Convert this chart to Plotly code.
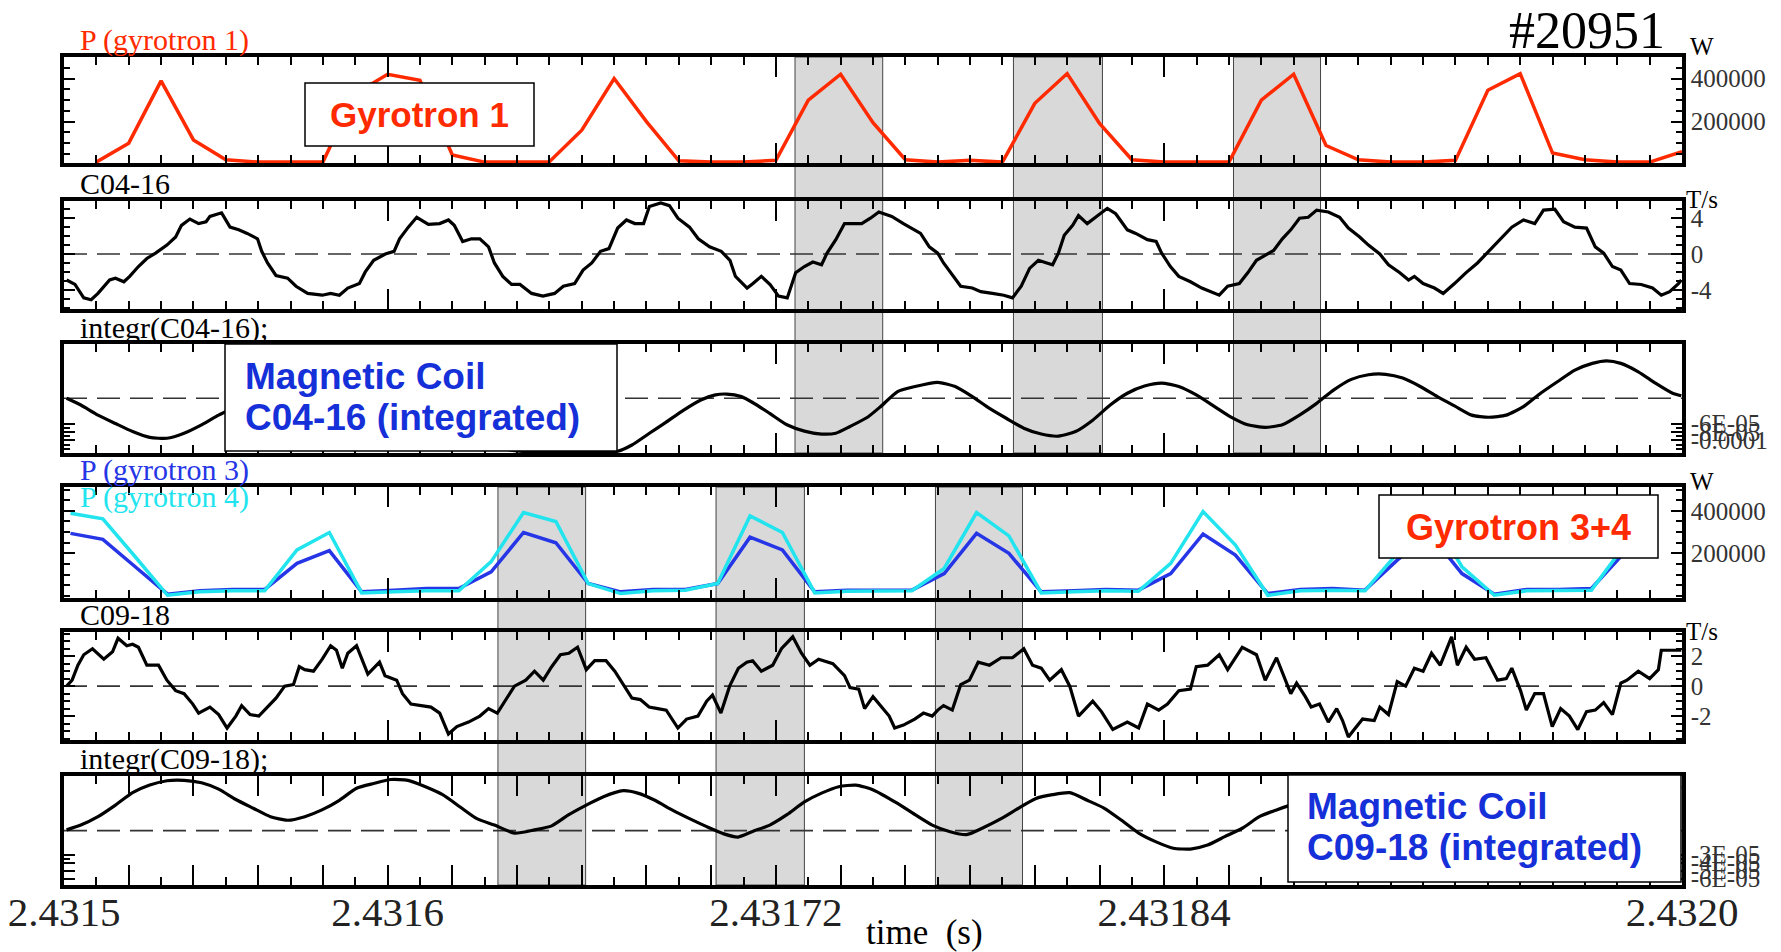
import plotly.graph_objects as go

# ---------------- data (time in microseconds after T0) ----------------
T0 = 2.4315  # s

G1_T = [10, 20, 30, 40, 50, 60, 70, 80, 90, 100, 110, 120, 130, 140, 150, 160, 170, 180, 190, 200,
        210, 220, 230, 240, 250, 260, 270, 280, 290, 300, 310, 320, 330, 340, 350, 360, 370, 380, 390, 400,
        410, 420, 430, 440, 450, 460, 470, 480, 490, 500]
G1_KW = [12, 100, 389, 115, 23, 12, 12, 12, 330, 420, 392, 45, 12, 12, 14, 160, 400, 200, 18, 12,
         12, 20, 300, 420, 195, 23, 12, 20, 12, 285, 423, 192, 23, 12, 12, 12, 300, 420, 89, 23,
         12, 12, 20, 346, 423, 54, 23, 12, 12, 61]

G34_T = [2, 12, 22, 32, 42, 52, 62, 72, 82, 92, 102, 112, 122, 132, 142, 152, 162, 172, 182, 192,
         202, 212, 222, 232, 242, 252, 262, 272, 282, 292, 302, 312, 322, 332, 342, 352, 362, 372, 382, 392,
         402, 412, 422, 432, 442, 452, 462, 472, 482, 492]
G3_KW = [294, 266, 137, 8, 24, 30, 30, 153, 213, 19, 27, 35, 35, 113, 298, 250, 58, 19, 30, 30,
         58, 276, 216, 19, 27, 27, 27, 105, 294, 200, 19, 24, 30, 27, 105, 291, 192, 11, 30, 35,
         27, 168, 294, 105, 8, 30, 30, 35, 200, 279]
G4_KW = [389, 362, 184, 3, 19, 24, 24, 216, 298, 14, 19, 24, 24, 161, 392, 350, 58, 11, 24, 27,
         58, 376, 298, 14, 22, 22, 24, 129, 392, 282, 14, 19, 24, 22, 153, 397, 239, 3, 24, 27,
         24, 200, 390, 137, 3, 24, 24, 27, 232, 373]

C0416_T = [0.8, 3.4, 6.1, 8.4, 10.5, 14.1, 15.9, 18.5, 20.3, 23.0, 25.6, 28.3, 31.8, 34.5, 36.3, 38.9, 41.6, 43.9, 45.1, 48.7,
           51.3, 54.0, 56.6, 59.8, 61.1, 62.9, 65.5, 69.1, 71.7, 75.3, 79.8, 82.4, 85.1, 87.7, 91.3, 93.1, 95.7, 99.3, 102.0, 103.7,
           106.4, 109.0, 112.6, 116.1, 118.8, 120.6, 123.2, 125.9, 128.5, 131.2, 133.0, 135.6, 138.3, 140.9, 144.5, 148.0, 151.6, 154.3, 157.8, 160.4,
           163.1, 165.8, 168.4, 171.1, 173.8, 176.4, 179.1, 180.9, 184.4, 187.1, 189.7, 193.3, 196.0, 199.5, 203.1, 205.8, 207.5, 211.1, 212.9, 215.5,
           218.2, 220.8, 223.5, 226.1, 228.8, 231.4, 234.1, 235.8, 238.5, 241.2, 246.5, 249.2, 251.8, 255.8, 259.4, 264.7, 267.4, 270.0, 271.8, 274.5,
           277.1, 280.7, 283.3, 286.9, 290.4, 293.1, 295.8, 298.4, 301.1, 303.7, 305.5, 307.3, 309.1, 311.7, 313.5, 316.2, 318.8, 322.4, 325.0, 328.6,
           331.2, 334.8, 337.5, 339.2, 341.9, 344.5, 348.1, 351.6, 357.0, 359.6, 363.2, 365.8, 368.5, 371.2, 373.8, 376.5, 379.1, 381.8, 384.5, 387.1,
           390.7, 394.2, 396.9, 400.4, 403.1, 406.6, 409.3, 412.8, 415.5, 417.3, 420.0, 423.5, 426.2, 429.7, 433.2, 436.8, 440.3, 443.9, 447.4, 451.0,
           454.5, 457.2, 460.7, 463.4, 466.9, 470.5, 473.2, 475.8, 478.5, 481.1, 483.8, 487.4, 490.9, 493.6, 496.2, 498.9, 499.8]
C0416_V = [-2.9, -3.4, -4.9, -5.1, -4.4, -2.9, -2.7, -3.1, -2.5, -1.4, -0.5, 0.1, 1.0, 1.9, 3.2, 3.9, 3.4, 3.6, 4.2, 4.6,
           3.0, 2.7, 2.3, 1.7, 0.3, -1.0, -2.4, -2.7, -3.6, -4.4, -4.6, -4.4, -4.6, -3.8, -3.3, -2.0, -0.7, 0.0, 0.3, 1.7,
           3.0, 4.1, 3.3, 3.4, 3.8, 3.2, 1.4, 1.7, 1.7, 0.8, -1.0, -2.5, -3.4, -3.4, -4.4, -4.7, -4.4, -3.6, -3.3, -1.8,
           -1.0, 0.3, 0.6, 2.9, 3.8, 3.4, 3.4, 5.3, 5.7, 5.4, 4.0, 3.0, 1.7, 0.8, 0.3, -0.7, -2.5, -3.8, -3.3, -2.5,
           -3.4, -4.7, -4.9, -2.1, -1.4, -0.9, -1.2, 0.1, 1.6, 3.4, 3.4, 4.0, 4.7, 4.2, 3.4, 2.3, 0.8, 0.1, -1.0, -2.3,
           -3.6, -3.8, -4.2, -4.4, -4.6, -4.9, -3.6, -1.6, -0.7, -1.0, -1.2, 0.1, 2.1, 3.2, 4.3, 3.4, 4.1, 5.1, 4.5, 2.7,
           2.3, 1.6, 1.4, 0.1, -1.4, -2.5, -3.1, -3.8, -4.6, -3.6, -3.3, -2.1, -0.7, -0.1, 0.4, 1.7, 2.7, 4.0, 4.1, 4.9,
           4.7, 4.1, 2.9, 1.9, 1.0, 0.0, -1.2, -2.1, -2.9, -2.5, -3.3, -3.8, -4.4, -3.3, -2.1, -1.0, 0.3, 1.6, 3.0, 3.8,
           3.4, 4.9, 5.0, 3.6, 3.0, 2.9, 0.8, 0.1, -1.4, -1.8, -3.3, -3.4, -3.8, -4.6, -4.2, -3.3, -2.9]

# integrated C04-16, in units of 1e-5
I0416_T = [0.8, 5.2, 10.5, 15.9, 21.2, 26.5, 31.8, 37.1, 42.5, 47.8, 52, 60, 70, 80, 90, 100, 110, 120, 130, 140,
           150, 160, 167, 171.1, 175.5, 180.9, 186.2, 191.5, 196.8, 201.3, 204.8, 209.3, 212.8, 218.1, 223.4, 228.8, 234.1, 238.5, 242.9, 248.3,
           252.3, 257.6, 263.0, 270.0, 275.4, 280.7, 286.0, 291.3, 296.6, 302.0, 307.3, 312.6, 317.9, 323.3, 328.6, 333.9, 339.2, 344.5, 349.9, 355.2,
           360.5, 365.8, 371.2, 376.5, 381.8, 387.1, 392.4, 397.8, 403.1, 408.4, 413.7, 419.1, 424.4, 429.7, 435.0, 440.3, 445.7, 451.0, 456.3, 461.6,
           466.9, 472.3, 476.7, 481.1, 486.5, 491.8, 497.1, 499.8]
I0416_V = [0.0, -1.6, -4.0, -6.0, -7.9, -9.3, -9.5, -8.3, -6.3, -4.0, -2.4, 0.8, 2.8, 3.2, 1.5, -2.0, -5.5, -8.5, -11.0, -12.5,
           -12.9, -12.9, -12.9, -12.6, -11.1, -8.3, -5.6, -2.8, -0.4, 0.8, 1.0, 0.4, -1.0, -3.6, -6.3, -7.8, -8.5, -8.3, -6.7, -4.5,
           -2.0, 1.6, 2.8, 3.8, 2.8, 0.4, -2.4, -4.8, -7.1, -8.5, -9.0, -7.9, -5.2, -1.6, 1.2, 2.9, 3.6, 2.8, 0.8, -1.8,
           -4.4, -6.3, -6.9, -6.3, -4.0, -1.2, 2.0, 4.5, 5.6, 5.7, 4.8, 2.8, 0.4, -1.8, -4.0, -4.5, -4.0, -2.0, 1.2, 4.0,
           6.7, 8.3, 8.9, 8.3, 6.3, 3.6, 1.2, 0.6]

C0918_T = [0.8, 2.5, 4.3, 6.1, 8.8, 12.3, 15.0, 16.7, 19.4, 21.2, 23.0, 25.6, 29.2, 31.8, 34.5, 37.1, 39.8, 41.6, 45.1, 47.8,
           50.4, 53.1, 54.9, 57.5, 60.2, 62.9, 65.5, 68.2, 70.9, 72.7, 74.4, 77.1, 79.8, 82.4, 84.2, 86.0, 87.7, 90.4, 92.2, 93.9,
           97.5, 99.2, 102.8, 104.6, 107.2, 110.8, 113.4, 116.1, 118.8, 121.4, 125.0, 128.5, 131.2, 133.9, 136.5, 139.2, 142.7, 145.4, 148.1, 150.7,
           153.4, 156.0, 158.7, 161.4, 164.0, 167.5, 170.2, 172.8, 175.5, 178.1, 180.8, 183.5, 186.1, 189.7, 192.4, 195.9, 198.6, 200.4, 203.0, 205.7,
           208.4, 211.0, 212.8, 215.5, 219.0, 221.7, 225.2, 227.9, 230.5, 233.2, 237.6, 241.2, 242.9, 245.6, 247.4, 250.0, 255.0, 256.7, 259.4, 262.9,
           265.6, 268.3, 270.0, 271.8, 274.5, 277.1, 279.8, 282.5, 286.0, 289.6, 293.1, 296.6, 299.3, 302.0, 304.6, 308.2, 310.8, 313.5, 317.9, 320.6,
           324.1, 328.6, 332.1, 334.8, 338.3, 341.0, 344.5, 348.1, 349.9, 353.4, 357.0, 359.6, 364.1, 368.5, 371.2, 374.7, 377.4, 379.1, 380.9, 383.6,
           385.4, 388.0, 390.7, 393.3, 395.1, 396.9, 398.7, 401.3, 404.9, 406.6, 409.3, 412.0, 414.6, 417.3, 420.0, 422.6, 425.3, 428.8, 430.6, 433.3,
           435.9, 439.4, 443.0, 445.7, 447.4, 450.1, 451.9, 454.5, 457.2, 459.9, 462.5, 465.2, 467.8, 470.5, 473.2, 475.8, 478.5, 481.1, 483.0, 486.5,
           490.0, 492.7, 493.6, 498.0, 499.8]
C0918_V = [0.0, 0.4, 1.4, 2.1, 2.5, 1.8, 2.3, 3.2, 2.7, 2.8, 2.6, 1.4, 1.4, 0.4, -0.3, -0.5, -1.2, -1.8, -1.4, -1.9,
           -2.8, -2.0, -1.3, -1.9, -2.0, -1.4, -0.8, 0.0, 0.1, 1.3, 1.1, 1.0, 1.8, 2.7, 2.4, 1.2, 2.2, 2.7, 1.7, 0.8,
           1.6, 0.7, 0.4, -0.5, -1.2, -1.3, -1.4, -1.8, -3.2, -2.7, -2.4, -2.0, -1.5, -1.8, -0.9, 0.0, 0.4, 1.0, 0.4, 1.3,
           2.1, 2.2, 2.6, 1.1, 1.7, 1.7, 1.0, 0.1, -0.8, -0.9, -1.4, -1.5, -1.6, -2.8, -2.2, -2.0, -1.0, -0.6, -1.8, 0.0,
           1.2, 1.6, 1.7, 1.0, 1.4, 2.5, 3.3, 2.2, 1.4, 1.8, 1.5, 0.7, -0.1, -0.2, -1.5, -0.7, -2.0, -2.8, -2.6, -2.2,
           -1.8, -2.0, -1.6, -1.3, -1.6, 0.1, 0.4, 1.6, 1.4, 1.9, 1.9, 2.5, 1.4, 1.2, 0.4, 1.1, 0.0, -2.0, -1.0, -1.7,
           -2.9, -2.4, -2.8, -1.2, -1.6, -1.2, -0.3, -0.2, 1.3, 1.4, 2.1, 1.1, 2.6, 2.1, 0.4, 1.9, 0.5, -0.5, 0.2, -0.7,
           -1.4, -1.2, -2.4, -1.5, -2.3, -3.4, -2.9, -2.2, -2.3, -1.4, -1.9, 0.3, 0.0, 1.2, 1.0, 2.2, 1.4, 3.3, 1.4, 2.6,
           1.8, 1.9, 0.4, 0.5, 1.2, -0.3, -1.6, -0.5, -0.5, -2.7, -1.5, -2.0, -2.9, -1.7, -1.6, -1.1, -1.9, 0.2, 0.4, 1.0,
           0.5, 1.1, 2.4, 2.4, 2.4]

# integrated C09-18, in units of 1e-5
I0918_T = [0.8, 5.2, 10.5, 15.9, 21.2, 26.5, 31.8, 37.1, 42.5, 47.8, 53.1, 58.5, 63.8, 69.1, 74.4, 79.7, 85.1, 90.4, 95.7, 101.0,
           106.3, 111.7, 117.0, 122.3, 127.6, 133.0, 139.2, 145.4, 150.7, 156.0, 161.4, 166.7, 172.8, 177.3, 182.6, 187.9, 193.3, 198.6, 203.9, 208.3,
           212.8, 218.1, 223.4, 228.8, 234.1, 239.4, 244.7, 250.1, 257.6, 263.0, 268.3, 273.6, 278.9, 284.2, 289.6, 294.9, 300.2, 305.5, 310.8, 316.2,
           321.5, 326.8, 332.1, 337.5, 342.8, 348.1, 353.4, 358.7, 364.1, 369.4, 374.7, 378.3, 390, 400, 410, 420, 430, 440, 450, 460,
           470, 480, 490, 499.8]
I0918_V = [0.1, 0.7, 1.75, 3.2, 4.75, 5.7, 6.25, 6.3, 6.0, 5.2, 3.9, 2.8, 1.75, 1.3, 1.75, 2.6, 3.8, 5.3, 5.9, 6.4,
           6.3, 5.5, 4.5, 3.0, 1.5, 0.7, -0.3, 0.1, 0.6, 2.0, 3.2, 4.25, 5.0, 4.7, 3.8, 2.6, 1.5, 0.5, -0.4, -0.8,
           -0.1, 0.7, 2.0, 3.6, 4.7, 5.5, 5.7, 5.1, 3.4, 2.0, 0.7, -0.1, -0.5, 0.4, 1.5, 2.8, 4.0, 4.5, 4.75, 3.8,
           2.8, 1.3, -0.3, -1.4, -2.2, -2.3, -1.8, -0.75, 0.3, 1.75, 2.6, 3.1, 4.5, 5.0, 4.2, 2.5, 0.5, -1.2, -2.0, -1.3,
           0.5, 2.8, 4.6, 5.5]

# ECRH windows (µs after T0)
BANDS_UPPER = [(225.9, 253.0), (293.4, 320.9), (361.4, 388.3)]
BANDS_LOWER = [(134.1, 161.2), (201.5, 228.8), (269.3, 296.2)]

XLABELS = {2.4315: "2.4315", 2.4316: "2.4316", 2.43172: "2.43172", 2.43184: "2.43184", 2.4320: "2.4320"}

# ---------------- geometry ----------------
W, H = 1781, 952
ML, MR, MT, MB = 64, 99, 57, 67
PW, PH = W - ML - MR, H - MT - MB
SERIF = "Liberation Serif"
SANS = "Liberation Sans"
RED, BLUE, DBLUE, CYAN = "#ff2a00", "#1530d8", "#2636e6", "#22e4ee"


def pyp(y):
    return (H - MB - y) / PH


def pxp(x):
    return (x - ML) / PW


PANELS = [(57, 163), (201, 309), (344, 453), (487, 598), (632, 740), (776, 885)]


def tt(ts):
    return [T0 + t * 1e-6 for t in ts]


fig = go.Figure()
fig.add_trace(go.Scatter(x=tt(G1_T), y=[v * 1000 for v in G1_KW], mode="lines",
                         line=dict(color=RED, width=3.5), xaxis="x", yaxis="y"))
fig.add_trace(go.Scatter(x=tt(C0416_T), y=C0416_V, mode="lines",
                         line=dict(color="black", width=3.2), xaxis="x2", yaxis="y2"))
fig.add_trace(go.Scatter(x=tt(I0416_T), y=[v * 1e-5 for v in I0416_V], mode="lines",
                         line=dict(color="black", width=3.2, shape="spline", smoothing=0.6), xaxis="x3", yaxis="y3"))
fig.add_trace(go.Scatter(x=tt(G34_T), y=[v * 1000 for v in G3_KW], mode="lines",
                         line=dict(color=DBLUE, width=3.5), xaxis="x4", yaxis="y4"))
fig.add_trace(go.Scatter(x=tt(G34_T), y=[v * 1000 for v in G4_KW], mode="lines",
                         line=dict(color=CYAN, width=3.5), xaxis="x4", yaxis="y4"))
fig.add_trace(go.Scatter(x=tt(C0918_T), y=C0918_V, mode="lines",
                         line=dict(color="black", width=3.2), xaxis="x5", yaxis="y5"))
fig.add_trace(go.Scatter(x=tt(I0918_T), y=[v * 1e-5 for v in I0918_V], mode="lines",
                         line=dict(color="black", width=3.2, shape="spline", smoothing=0.6), xaxis="x6", yaxis="y6"))

XMAJOR = [round(T0 + k * 2e-5, 6) for k in range(26)]
XTEXT = [XLABELS.get(v, "") for v in XMAJOR]

YCFG = [
    dict(range=[7800, 500000], tickvals=[200000, 400000], ticktext=["200000", "400000"],
         minor=dict(tickmode="linear", tick0=0, dtick=50000)),
    dict(range=[-6.14, 5.92], tickvals=[-4, 0, 4], ticktext=["-4", "0", "4"],
         minor=dict(tickmode="linear", tick0=0, dtick=1)),
    dict(range=[-1.3e-4, 1.29e-4], tickvals=[-6e-5, -8e-5, -1e-4], ticktext=["-6E-05", "-8E-05", "-0.0001"],
         minor=dict(tickmode="array", tickvals=[-7e-5, -9e-5, -1.1e-4, -1.2e-4])),
    dict(range=[-9900, 512000], tickvals=[200000, 400000], ticktext=["200000", "400000"],
         minor=dict(tickmode="linear", tick0=0, dtick=50000)),
    dict(range=[-3.6, 3.62], tickvals=[-2, 0, 2], ticktext=["-2", "0", "2"],
         minor=dict(tickmode="linear", tick0=0, dtick=0.5)),
    dict(range=[-6.8e-5, 6.84e-5], tickvals=[-3e-5, -4e-5, -5e-5, -6e-5],
         ticktext=["-3E-05", "-4E-05", "-5E-05", "-6E-05"],
         minor=dict(tickmode="array", tickvals=[-3.5e-5])),
]

layout = dict(width=W, height=H, margin=dict(l=ML, r=MR, t=MT, b=MB),
              paper_bgcolor="white", plot_bgcolor="white", showlegend=False,
              template="none")

for i, (top, bot) in enumerate(PANELS, start=1):
    sx = "" if i == 1 else str(i)
    xa = dict(domain=[0, 1], range=[T0, T0 + 5e-4], anchor="y" + sx,
              showline=True, linewidth=3.5, linecolor="black", mirror="allticks",
              ticks="inside", ticklen=20, tickwidth=2.2, tickcolor="black",
              tickmode="array", tickvals=XMAJOR, ticktext=XTEXT,
              showticklabels=(i == 6), showgrid=False, zeroline=False, automargin=False,
              tickfont=dict(family=SERIF, size=41, color="#222"), ticklabelstandoff=-12,
              minor=dict(ticks="inside", ticklen=8, tickwidth=2, tickcolor="black",
                         tickmode="linear", tick0=T0, dtick=1e-5, showgrid=False))
    if i > 1:
        xa["matches"] = "x"
    yc = YCFG[i - 1]
    minor = dict(ticks="inside", ticklen=6, tickwidth=2, tickcolor="black", showgrid=False)
    minor.update(yc["minor"])
    ya = dict(domain=[pyp(bot), pyp(top)], range=yc["range"], anchor="x" + sx, side="right",
              showline=True, linewidth=3.5, linecolor="black", mirror="allticks",
              ticks="inside", ticklen=11, tickwidth=2.2, tickcolor="black",
              tickmode="array", tickvals=yc["tickvals"], ticktext=yc["ticktext"],
              showgrid=False, zeroline=False, automargin=False,
              tickfont=dict(family=SERIF, size=25, color="#333"), minor=minor)
    layout["xaxis" + sx] = xa
    layout["yaxis" + sx] = ya

shapes = []
for (a, b) in BANDS_UPPER:
    shapes.append(dict(type="rect", xref="x", yref="paper", x0=T0 + a * 1e-6, x1=T0 + b * 1e-6,
                       y0=pyp(PANELS[2][1]), y1=pyp(PANELS[0][0]), fillcolor="#d9d9d9",
                       line=dict(color="#444", width=1), layer="below"))
for (a, b) in BANDS_LOWER:
    shapes.append(dict(type="rect", xref="x", yref="paper", x0=T0 + a * 1e-6, x1=T0 + b * 1e-6,
                       y0=pyp(PANELS[5][1]), y1=pyp(PANELS[3][0]), fillcolor="#d9d9d9",
                       line=dict(color="#444", width=1), layer="below"))
for i in (2, 3, 5, 6):
    shapes.append(dict(type="line", xref=f"x{i} domain", yref=f"y{i}", x0=0, x1=1, y0=0, y1=0,
                       line=dict(color="#333", width=1.6, dash="23px,10px"), layer="below"))

# legend / note boxes
BOXES = [(305, 534, 83, 146), (225, 617, 344, 451), (1379, 1658, 495, 558), (1288, 1681, 775, 882)]
for (x0, x1, y0, y1) in BOXES:
    shapes.append(dict(type="rect", xref="paper", yref="paper", x0=pxp(x0), x1=pxp(x1),
                       y0=pyp(y1), y1=pyp(y0), fillcolor="white",
                       line=dict(color="black", width=1.5), layer="above"))
layout["shapes"] = shapes

ann = []


def text(s, x, y, size, color="black", family=SERIF, xanchor="left", bold=False):
    ann.append(dict(text=s, x=pxp(x), y=pyp(y), xref="paper", yref="paper", showarrow=False,
                    xanchor=xanchor, yanchor="middle",
                    font=dict(family=family, size=size, color=color, weight="bold" if bold else "normal")))


text("P (gyrotron 1)", 78, 40, 30, RED)
text("C04-16", 78, 183, 30)
text("integr(C04-16);", 78, 328, 30)
text("P (gyrotron 3)", 78, 470, 30, DBLUE)
text("P (gyrotron 4)", 78, 497, 30, CYAN)
text("C09-18", 78, 614, 30)
text("integr(C09-18);", 78, 759, 30)
text("#20951", 1587, 30, 52, xanchor="center")
text("W", 1688, 47, 25)
text("T/s", 1684, 199, 25)
text("W", 1688, 481, 25)
text("T/s", 1684, 631, 25)
text("time  (s)", 924, 932, 35, xanchor="center")
text("Gyrotron 1", 419.5, 115, 35, RED, SANS, "center", True)
text("Magnetic Coil", 243, 376, 37, BLUE, SANS, "left", True)
text("C04-16 (integrated)", 243, 417, 37, BLUE, SANS, "left", True)
text("Gyrotron 3+4", 1518.5, 527, 36, RED, SANS, "center", True)
text("Magnetic Coil", 1305, 806, 37, BLUE, SANS, "left", True)
text("C09-18 (integrated)", 1305, 847, 37, BLUE, SANS, "left", True)
layout["annotations"] = ann

fig.update_layout(**layout)
fig.write_html("out.html", config={"displayModeBar": False},
               post_script="document.body.style.margin='0px';document.documentElement.style.overflow='hidden';")
